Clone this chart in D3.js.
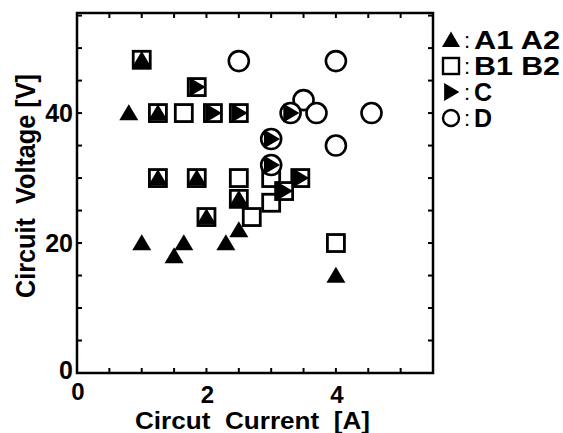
<!DOCTYPE html>
<html>
<head>
<meta charset="utf-8">
<script src="https://cdn.jsdelivr.net/npm/d3@7"></script>
<style>
  html, body { margin: 0; padding: 0; background: #fff; }
  svg { display: block; }
  text { font-family: "Liberation Sans", Arial, Helvetica, sans-serif; fill: #000; font-weight: bold; }
</style>
</head>
<body>
<svg id="chart" width="563" height="433"></svg>
<script>
// ---- data (current [A], voltage [V]) ----
// A1 A2 : filled triangles
const seriesA = [
  [0.8, 40], [1.0, 20], [1.5, 18], [1.65, 20], [2.3, 20], [2.5, 22], [4.0, 15],
  [1.0, 48.2], [1.25, 40], [1.25, 30], [1.85, 30], [2.0, 24], [2.5, 26.8]
];
// B1 B2 : open squares
const seriesB = [
  [1.0, 48.2], [1.25, 40], [1.25, 30], [1.85, 30], [2.0, 24], [2.5, 26.8],
  [1.65, 40], [2.5, 30], [3.0, 30], [3.0, 26.2], [2.7, 24], [4.0, 20],
  [1.85, 44], [2.1, 40], [2.5, 40], [3.45, 30], [3.2, 28]
];
// C : right-pointing triangles
const seriesC = [
  [1.85, 44], [2.1, 40], [2.5, 40], [3.45, 30], [3.2, 28],
  [3.3, 40], [3.0, 36], [3.0, 32]
];
// D : open circles
const seriesD = [
  [2.5, 48], [4.0, 48], [3.5, 42], [3.7, 40], [4.55, 40], [4.0, 35],
  [3.3, 40], [3.0, 36], [3.0, 32]
];
const xTickLabels = [0, 2, 4];
const yTickLabels = [0, 20, 40];
const legendLabels = ["A1 A2", "B1 B2", "C", "D"];
const xTitle = "Circut  Current  [A]";
const yTitle = "Circuit  Voltage [V]";

// ---- layout ----
const svg = d3.select("#chart");
const L = 77, R = 433, T = 13, B = 373;
const x = d3.scaleLinear().domain([0, 5.5]).range([L, R]);
const y = d3.scaleLinear().domain([0, 55.4]).range([B, T]);

const g = svg.append("g");

// frame
g.append("rect").attr("x", L).attr("y", T).attr("width", R - L).attr("height", B - T)
  .attr("fill", "none").attr("stroke", "#000").attr("stroke-width", 2.5);

// inward ticks on all four sides
const xt = d3.range(0, 5.5001, 0.5);
const yt = d3.range(0, 55.1, 5);
const tick = 5;
g.append("g").selectAll("line").data(xt).join("line")
  .attr("x1", d => x(d)).attr("x2", d => x(d)).attr("y1", B).attr("y2", B - tick)
  .attr("stroke", "#000").attr("stroke-width", 2);
g.append("g").selectAll("line").data(xt).join("line")
  .attr("x1", d => x(d)).attr("x2", d => x(d)).attr("y1", T).attr("y2", T + tick)
  .attr("stroke", "#000").attr("stroke-width", 2);
g.append("g").selectAll("line").data(yt).join("line")
  .attr("x1", L).attr("x2", L + tick).attr("y1", d => y(d)).attr("y2", d => y(d))
  .attr("stroke", "#000").attr("stroke-width", 2);
g.append("g").selectAll("line").data(yt).join("line")
  .attr("x1", R).attr("x2", R - tick).attr("y1", d => y(d)).attr("y2", d => y(d))
  .attr("stroke", "#000").attr("stroke-width", 2);

// tick labels
g.append("g").selectAll("text").data(xTickLabels).join("text")
  .attr("x", d => x(d) + 1).attr("y", d => B + (d === 0 ? 27 : 30))
  .attr("text-anchor", "middle").attr("font-size", 24)
  .text(d => d);
g.append("g").selectAll("text").data(yTickLabels).join("text")
  .attr("x", L - 4).attr("y", d => y(d) + (d === 0 ? 6 : 9))
  .attr("text-anchor", "end").attr("font-size", 25)
  .text(d => d);

// axis titles
svg.append("text").attr("x", 135).attr("y", 429)
  .attr("font-size", 24)
  .attr("textLength", 235).attr("lengthAdjust", "spacingAndGlyphs")
  .style("white-space", "pre").text(xTitle);
svg.append("text").attr("transform", "translate(35,298) rotate(-90)")
  .attr("font-size", 27)
  .attr("textLength", 224).attr("lengthAdjust", "spacingAndGlyphs")
  .style("white-space", "pre").text(yTitle);

// ---- marker shapes ----
const sq = 17, tri = 19, circR = 10;
function triUp(cx, cy, s) {
  const h = s * 0.85;
  return `M${cx},${cy - h * 0.55} L${cx + s / 2},${cy + h * 0.45} L${cx - s / 2},${cy + h * 0.45} Z`;
}
function triRight(cx, cy, s) {
  const h = s * 0.85;
  return `M${cx + h * 0.55},${cy} L${cx - h * 0.45},${cy - s / 2} L${cx - h * 0.45},${cy + s / 2} Z`;
}

const marks = g.append("g");
// squares (B)
marks.append("g").selectAll("rect").data(seriesB).join("rect")
  .attr("x", d => x(d[0]) - sq / 2).attr("y", d => y(d[1]) - sq / 2)
  .attr("width", sq).attr("height", sq)
  .attr("fill", "#fff").attr("stroke", "#000").attr("stroke-width", 2.8);
// circles (D)
marks.append("g").selectAll("circle").data(seriesD).join("circle")
  .attr("cx", d => x(d[0])).attr("cy", d => y(d[1])).attr("r", circR)
  .attr("fill", "#fff").attr("stroke", "#000").attr("stroke-width", 2.6);
// right triangles (C)
marks.append("g").selectAll("path").data(seriesC).join("path")
  .attr("d", d => triRight(x(d[0]), y(d[1]), 19))
  .attr("fill", "#000");
// up triangles (A)
marks.append("g").selectAll("path").data(seriesA).join("path")
  .attr("d", d => triUp(x(d[0]), y(d[1]), tri))
  .attr("fill", "#000");

// ---- legend ----
const legY = d3.scaleBand().domain(legendLabels).range([27, 131]);
const leg = svg.append("g");
const lx = 451;
legendLabels.forEach((lab, i) => {
  const cy = legY(lab) + legY.bandwidth() / 2;
  if (i === 0) leg.append("path").attr("d", triUp(lx, cy, 18)).attr("fill", "#000");
  if (i === 1) leg.append("rect").attr("x", lx - 8).attr("y", cy - 8).attr("width", 16).attr("height", 16)
    .attr("fill", "#fff").attr("stroke", "#000").attr("stroke-width", 2.4);
  if (i === 2) leg.append("path").attr("d", triRight(lx, cy, 18)).attr("fill", "#000");
  if (i === 3) leg.append("circle").attr("cx", lx).attr("cy", cy).attr("r", 8)
    .attr("fill", "#fff").attr("stroke", "#000").attr("stroke-width", 2.4);
  leg.append("text").attr("x", lx + 13).attr("y", cy + 8).attr("font-size", 22)
    .style("font-weight", "normal").text(":");
  const t = leg.append("text").attr("x", lx + 23).attr("y", cy + 9).attr("font-size", 25)
    .style("white-space", "pre").text(lab);
  if (lab.length > 1) t.attr("textLength", 86).attr("lengthAdjust", "spacingAndGlyphs");
});
</script>
</body>
</html>
